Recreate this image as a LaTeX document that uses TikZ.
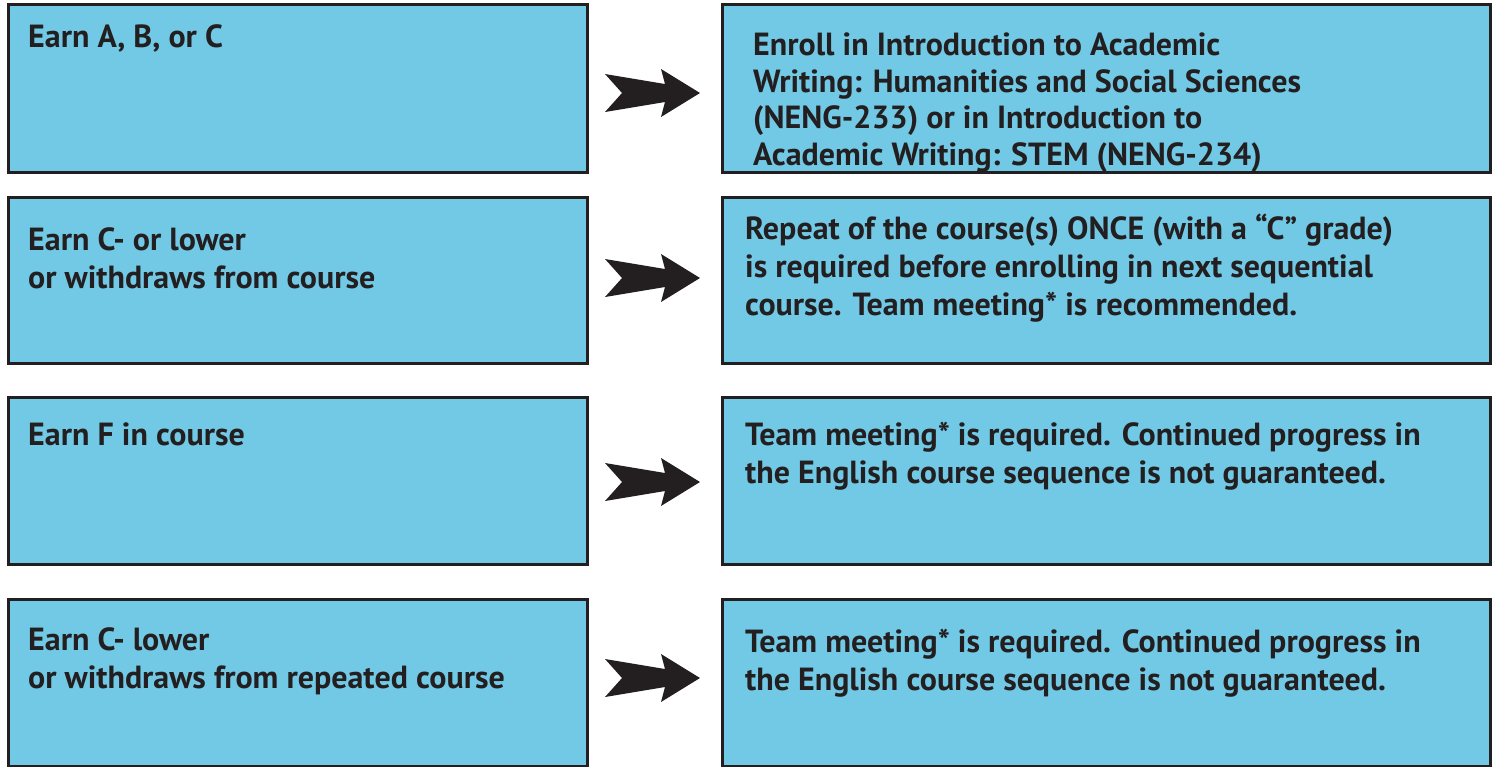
\documentclass[tikz,border=0pt]{standalone}
\usepackage{fontspec}
\setmainfont{PT Sans}
\definecolor{boxblue}{HTML}{72C9E5}
\definecolor{ink}{HTML}{231F20}
\tikzset{
  box/.style={draw=ink, line width=3pt, fill=boxblue},
  txt/.style={anchor=base west, inner sep=0pt, align=left, text=ink,
    font=\fontsize{32}{38}\selectfont\bfseries},
  arrowshape/.style={fill=ink, draw=none}
}
\newcommand{\bigarrow}[2]{%
  \fill[arrowshape] (#1) ++(0,-19) -- ++(60,10) -- ++(-4,-15) -- ++(39,24)
    -- ++(-39,24) -- ++(4,-15) -- ++(-60,10) -- ++(17,-19) -- cycle;}
\begin{document}
\begin{tikzpicture}[x=1pt,y=-1pt]
\useasboundingbox (0,0) rectangle (1496,766);
% left boxes
\draw[box] (8,4) rectangle (587,172) coordinate (L1);
\draw[box] (8,197) rectangle (587,363) coordinate (L2);
\draw[box] (8,397) rectangle (587,564) coordinate (L3);
\draw[box] (8,599) rectangle (587,766) coordinate (L4);
% right boxes
\draw[box] (722,4) rectangle (1490,172) coordinate (R1);
\draw[box] (722,197) rectangle (1490,363) coordinate (R2);
\draw[box] (722,397) rectangle (1490,564) coordinate (R3);
\draw[box] (722,599) rectangle (1490,766) coordinate (R4);
% texts (base anchor = baseline of last line)
\node[txt] (t1) at (28,47) {Earn A, B, or C};
\node[txt] (t2) at (28,288) {Earn C- or lower\\or withdraws from course};
\node[txt] (t3) at (28,445) {Earn F in course};
\node[txt] (t4) at (28,688) {Earn C- lower\\or withdraws from repeated course};
\node[txt, font=\fontsize{32}{36.5}\selectfont\bfseries] (u1) at (753,165) {Enroll in Introduction to Academic\\Writing: Humanities and Social Sciences\\(NENG-233) or in Introduction to\\Academic Writing: STEM (NENG-234)};
\node[txt] (u2) at (745,315) {Repeat of the course(s) ONCE (with a “C” grade)\\is required before enrolling in next sequential\\course. Team meeting* is recommended.};
\node[txt] (u3) at (745,483) {Team meeting* is required. Continued progress in\\the English course sequence is not guaranteed.};
\node[txt] (u4) at (745,690) {Team meeting* is required. Continued progress in\\the English course sequence is not guaranteed.};
% arrows
\coordinate (a1) at (605,93);
\coordinate (a2) at (605,278);
\coordinate (a3) at (605,482);
\coordinate (a4) at (605,678);
\bigarrow{a1}{}
\bigarrow{a2}{}
\bigarrow{a3}{}
\bigarrow{a4}{}
\end{tikzpicture}
\end{document}
